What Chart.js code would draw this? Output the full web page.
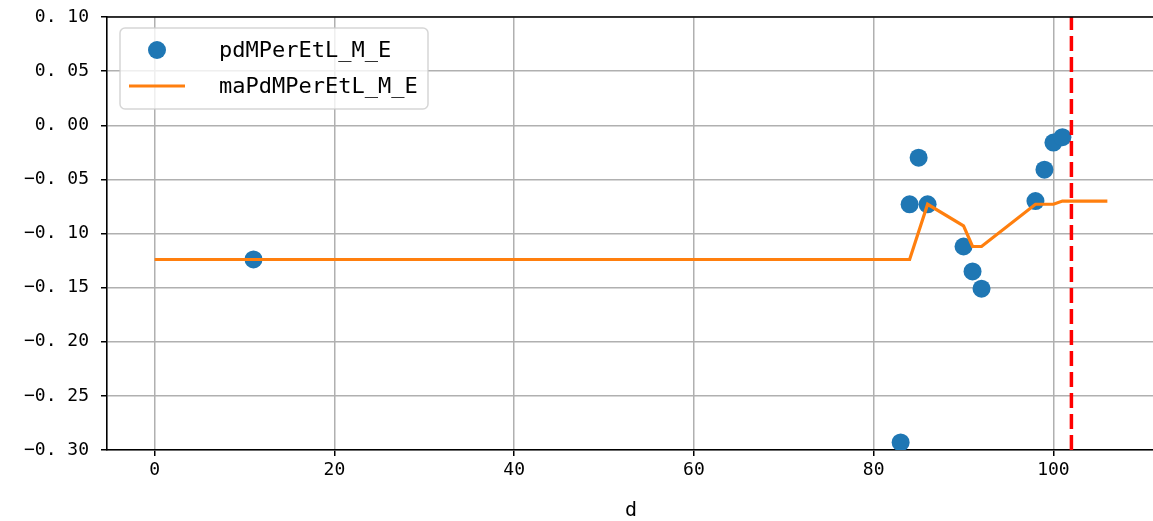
<!DOCTYPE html>
<html>
<head>
<meta charset="utf-8">
<script src="https://cdn.jsdelivr.net/npm/chart.js@4.4.0/dist/chart.umd.min.js"></script>
<style>
html,body{margin:0;padding:0;background:#fff;overflow:hidden;}
#wrap{width:1153px;height:521px;overflow:hidden;}
</style>
</head>
<body>
<div id="wrap"><canvas id="c" width="1156" height="521"></canvas></div>
<script>
// ---- data ----
const dotX = [11, 83, 84, 85, 86, 90, 91, 92, 98, 99, 100, 101];
const dotY = [-0.124, -0.293, -0.073, -0.030, -0.073, -0.112, -0.135, -0.151, -0.070, -0.041, -0.016, -0.011];
const maX = [0, 84, 86, 90, 91, 92, 98, 99, 100, 101, 106];
const maY = [-0.124, -0.124, -0.073, -0.093, -0.112, -0.112, -0.073, -0.073, -0.073, -0.070, -0.070];
const markerX = 102;
const seriesNames = ["pdMPerEtL_M_E", "maPdMPerEtL_M_E"];
const xTicks = [0, 20, 40, 60, 80, 100];
const yTicks = [-0.30, -0.25, -0.20, -0.15, -0.10, -0.05, 0.00, 0.05, 0.10];
const yTickLabels = ["−0. 30", "−0. 25", "−0. 20", "−0. 15", "−0. 10", "−0. 05", "0. 00", "0. 05", "0. 10"];
const xTitle = "d";

const BLUE = '#1f77b4', ORANGE = '#ff7f0e';
const TICKFONT = {family: 'DejaVu Sans Mono', size: 18};

const legendPlugin = {
  id: 'mplLegend',
  afterDraw(chart) {
    const ctx = chart.ctx;
    const ca = chart.chartArea;
    ctx.save();
    // top spine
    ctx.strokeStyle = '#000'; ctx.lineWidth = 1.6;
    ctx.beginPath(); ctx.moveTo(ca.left, ca.top); ctx.lineTo(ca.right, ca.top); ctx.stroke();
    // legend frame
    const x0 = 120, y0 = 28, w = 308, h = 81, r = 5;
    ctx.beginPath();
    ctx.roundRect(x0, y0, w, h, r);
    ctx.fillStyle = 'rgba(255,255,255,0.8)'; ctx.fill();
    ctx.strokeStyle = 'rgba(204,204,204,0.8)'; ctx.lineWidth = 1.5; ctx.stroke();
    // entry 1: marker
    ctx.beginPath(); ctx.arc(157, 50, 9, 0, Math.PI * 2);
    ctx.fillStyle = BLUE; ctx.fill();
    // entry 2: line
    ctx.beginPath(); ctx.moveTo(129, 86); ctx.lineTo(185, 86);
    ctx.strokeStyle = ORANGE; ctx.lineWidth = 3.2; ctx.stroke();
    ctx.fillStyle = '#000';
    ctx.font = '22px "DejaVu Sans Mono"';
    ctx.textBaseline = 'middle'; ctx.textAlign = 'left';
    ctx.fillText(seriesNames[0], 219, 51);
    ctx.fillText(seriesNames[1], 219, 87);
    ctx.restore();
  }
};

function zeroPad(s) { s.paddingTop = 0; s.paddingBottom = 0; s.paddingLeft = 0; s.paddingRight = 0; }

new Chart(document.getElementById('c'), {
  type: 'scatter',
  data: {
    datasets: [
      {
        label: 'vline',
        data: [{x: markerX, y: -0.30}, {x: markerX, y: 0.10}],
        showLine: true, pointRadius: 0, borderColor: '#ff0000', borderWidth: 3.5,
        borderDash: [15, 6], order: 0
      },
      {
        label: seriesNames[1],
        data: maX.map((x, i) => ({x, y: maY[i]})),
        showLine: true, pointRadius: 0, borderColor: ORANGE, borderWidth: 3.2,
        tension: 0, order: 1
      },
      {
        label: seriesNames[0],
        data: dotX.map((x, i) => ({x, y: dotY[i]})),
        pointRadius: 9, pointBackgroundColor: BLUE, pointBorderWidth: 0,
        borderColor: BLUE, order: 2
      }
    ]
  },
  options: {
    responsive: false,
    animation: false,
    devicePixelRatio: 1,
    layout: {autoPadding: false, padding: {top: 17, right: 1, left: 0, bottom: 0}},
    plugins: {legend: {display: false}, tooltip: {enabled: false}},
    scales: {
      x: {
        type: 'linear', min: -5.3, max: 111.3,
        afterBuildTicks: s => { s.ticks = xTicks.map(v => ({value: v})); },
        afterFit: s => { s.height = 71; zeroPad(s); },
        grid: {color: '#b0b0b0', lineWidth: 1.5, tickLength: 6, tickColor: '#000', tickWidth: 1.5},
        border: {display: true, color: '#000', width: 1.6},
        ticks: {font: TICKFONT, color: '#000', padding: 4, maxRotation: 0,
                callback: v => String(v)},
        title: {display: true, text: xTitle, color: '#000',
                font: {family: 'DejaVu Sans Mono', size: 20, lineHeight: 1.0},
                padding: {top: 0, bottom: 0}}
      },
      y: {
        type: 'linear', min: -0.30, max: 0.10,
        afterBuildTicks: s => { s.ticks = yTicks.map(v => ({value: v})); },
        afterFit: s => { s.width = 107; zeroPad(s); },
        grid: {color: '#b0b0b0', lineWidth: 1.5, tickLength: 6, tickColor: '#000', tickWidth: 1.5},
        border: {display: true, color: '#000', width: 1.6},
        ticks: {font: TICKFONT, color: '#000', padding: 12,
                callback: (v, i) => yTickLabels[i]}
      }
    }
  },
  plugins: [legendPlugin]
});
</script>
</body>
</html>
